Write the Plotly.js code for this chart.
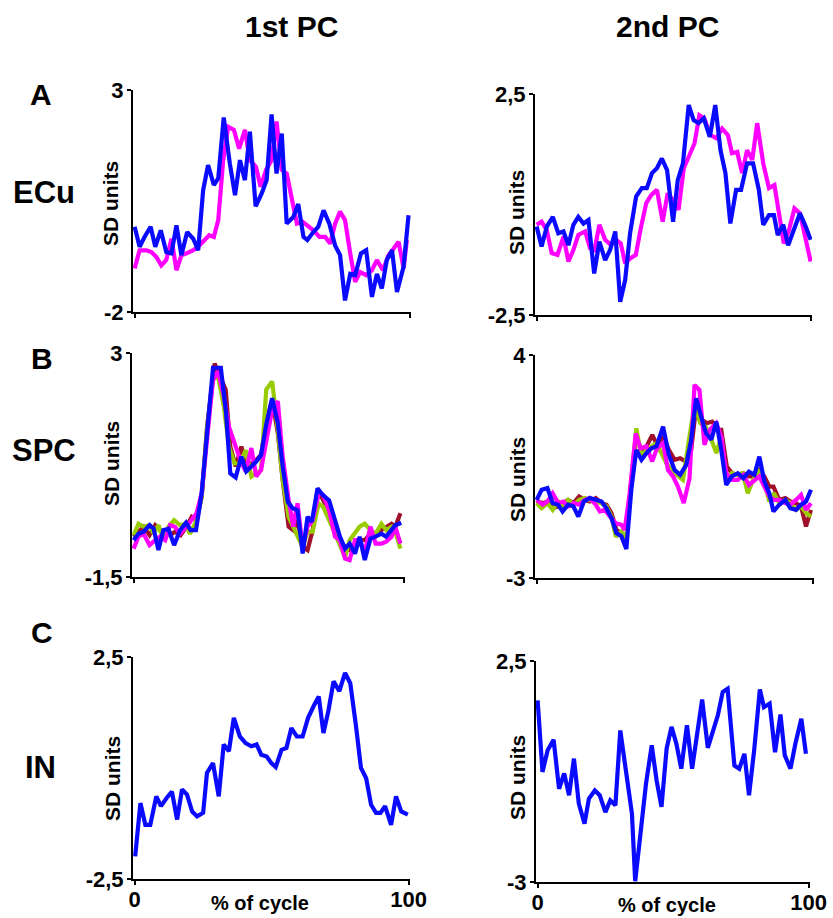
<!DOCTYPE html>
<html>
<head>
<meta charset="utf-8">
<script src="https://cdn.plot.ly/plotly-3.0.1.min.js"></script>
<style>html,body{margin:0;padding:0;background:#fff;}#chart{width:833px;height:918px;}</style>
</head>
<body>
<div id="chart"></div>
<script>
// ---------- DATA ----------
const xTickLabels = ['0', '100'];
const colTitles = ['1st PC', '2nd PC'];
const rowLetters = ['A', 'B', 'C'];
const rowNames = ['ECu', 'SPC', 'IN'];
const yLabelA1 = ['-2', '3'];     const yRangeA1 = [-2, 3];
const yLabelA2 = ['-2,5', '2,5']; const yRangeA2 = [-2.5, 2.5];
const yLabelB1 = ['-1,5', '3'];   const yRangeB1 = [-1.5, 3];
const yLabelB2 = ['-3', '4'];     const yRangeB2 = [-3, 4];
const yLabelC1 = ['-2,5', '2,5']; const yRangeC1 = [-2.5, 2.5];
const yLabelC2 = ['-3', '2,5'];   const yRangeC2 = [-3, 2.5];

// A, 1st PC
const a1BlueX = [0,1.8,3.6,5.8,7.5,9.5,11.5,13.4,15.2,17.0,19.1,21.3,23.1,24.9,26.7,28.8,30.4,32.4,34.6,36.5,38.3,40.1,41.9,44.0,46.2,48.0,49.8,51.6,53.5,55.3,57.7,59.5,61.4,62.8,65.0,66.8,68.7,70.8,72.9,74.7,76.5,78.4,80.2,82.3,84.2,86.3,88.1,89.9,91.7,93.6,95.4,97.8,99.6];
const a1BlueY = [-0.08,-0.53,-0.31,-0.08,-0.53,-0.16,-0.65,-0.68,-0.05,-0.72,-0.20,-0.35,-0.61,0.74,1.31,0.86,1.01,2.38,1.35,0.63,1.42,0.97,2.06,0.38,0.67,0.97,2.45,1.12,2.02,-0.01,0.14,0.43,-0.31,-0.38,-0.20,-0.08,0.29,-0.01,-0.50,-0.72,-1.74,-1.14,-1.17,-0.68,-0.61,-1.66,-1.14,-1.47,-0.83,-0.61,-1.55,-0.98,0.18];
const a1MagX = [0,1.8,4.3,6.1,7.9,9.7,11.5,13.4,15.2,17.0,19.1,21.3,23.1,24.9,27.1,28.8,30.4,32.2,34.0,36.1,38.0,40.1,41.9,44.1,45.8,47.8,49.8,51.6,53.5,55.3,57.1,59.0,61.1,63.2,65.0,67.2,69.3,71.1,72.9,74.7,76.5,78.4,80.2,82.0,84.2,86.3,88.1,90.3,92.3,94.2,96.0,97.8,99.0];
const a1MagY = [-1.02,-0.61,-0.61,-0.65,-0.76,-0.95,-0.83,-0.35,-1.06,-0.72,-0.67,-0.61,-0.53,-0.42,-0.27,-0.31,0.07,1.42,2.17,2.10,1.68,2.10,1.42,1.27,0.82,1.20,1.42,2.29,1.20,1.12,0.52,-0.01,0.03,-0.08,-0.16,-0.31,-0.31,-0.46,-0.01,0.26,0.07,-0.68,-1.32,-1.10,-1.17,-1.06,-0.83,-1.06,-0.72,-0.57,-0.42,-1.02,-0.38];

// A, 2nd PC
const a2BlueX = [0,1.8,3.7,5.9,7.9,9.8,11.6,13.4,15.2,17.1,18.9,21.0,22.9,25.0,26.8,28.7,30.5,32.3,34.1,36.3,38.4,40.2,42.1,43.9,45.7,47.6,49.8,51.5,53.4,55.5,57.3,59.1,61.0,63.2,65.2,67.1,68.9,70.7,72.8,74.6,76.8,79.0,81.1,82.7,84.8,86.6,88.0,90.0,91.8,93.9,96.1,98.2,100];
const a2BlueY = [-0.50,-0.95,-0.50,-0.28,-0.65,-0.61,-0.92,-0.46,-0.28,-0.43,-0.35,-1.56,-0.84,-1.26,-1.03,-0.61,-2.20,-1.71,-0.65,0.18,0.37,0.37,0.71,0.82,1.04,0.78,-0.39,0.55,0.93,2.25,1.91,1.84,1.95,1.53,2.25,1.23,0.71,-0.43,0.33,0.33,0.93,0.93,0.33,-0.46,-0.24,-0.24,-0.69,-0.46,-0.92,-0.58,-0.20,-0.50,-0.80];
const a2MagX = [0,1.8,3.7,5.5,7.6,9.8,11.6,13.4,15.2,17.7,19.5,21.1,22.9,25.0,27.1,29.0,30.7,32.3,34.1,36.2,38.0,40.0,41.8,43.9,46.0,47.8,49.8,51.8,53.7,55.5,57.6,59.4,61.2,63.4,65.6,67.7,69.8,71.3,73.2,75.0,76.8,78.7,80.5,82.7,84.8,86.8,88.5,90.2,92.1,94.1,96.1,98.2,100];
const a2MagY = [-0.46,-0.39,-0.58,-1.10,-1.14,-0.73,-1.29,-1.03,-0.69,-0.61,-0.99,-1.03,-0.46,-0.80,-0.92,-0.80,-0.88,-1.33,-1.22,-1.14,-0.54,0.03,0.21,0.33,-0.39,0.25,0.10,-0.12,0.82,1.08,1.38,2.02,1.95,1.57,1.50,1.72,1.57,1.16,1.19,0.71,1.23,1.01,1.84,0.93,0.37,0.44,-0.20,-0.88,-0.58,-0.09,-0.20,-0.80,-1.29];

// B, 1st PC
const b1BlueX = [0,1.8,3.7,5.9,7.4,9.2,11.0,12.9,15.0,17.2,19.4,21.1,23.1,25.2,27.2,29.4,32.3,34.2,35.8,37.8,39.9,41.7,43.6,45.4,47.2,49.1,51.3,53.4,55.2,57.1,58.9,60.7,62.6,64.4,66.0,68.1,70.0,72.4,74.6,76.4,78.3,80.0,82.0,83.7,85.6,87.7,89.6,91.8,93.5,95.5,96.9,99.1];
const b1BlueY = [-0.76,-0.63,-0.59,-0.46,-0.53,-0.96,-0.56,-0.53,-0.86,-0.56,-0.41,-0.56,-0.56,0.18,1.39,2.70,2.70,1.82,0.58,0.50,0.92,0.62,0.72,0.82,0.95,1.56,2.09,1.59,0.72,0.01,-0.12,-0.16,-1.03,-0.29,-0.39,0.28,0.15,0.04,-0.36,-0.69,-0.93,-0.83,-1.03,-0.69,-1.16,-0.73,-0.69,-0.63,-0.69,-0.56,-0.46,-0.41];
const b1MagX = [0,1.8,3.7,5.9,8.0,9.8,11.7,13.5,15.3,17.2,19.6,21.5,23.3,25.2,27.2,29.4,31.3,33.4,35.3,37.4,39.5,41.5,43.6,45.4,47.2,49.1,51.3,53.4,55.2,57.4,59.1,60.7,62.6,64.4,66.3,68.5,70.2,72.4,74.6,76.4,78.3,80.0,82.0,83.7,85.6,87.7,89.6,91.8,93.5,95.5,96.9,98.8];
const b1MagY = [-0.93,-0.69,-0.63,-0.86,-0.76,-0.69,-0.76,-0.46,-0.49,-0.63,-0.49,-0.36,-0.22,0.18,1.32,2.46,2.63,2.13,1.52,1.19,0.85,0.62,1.09,0.52,0.65,1.22,1.86,2.03,0.92,0.05,-0.49,-0.02,-0.90,-0.49,-0.36,0.18,0.15,-0.16,-0.69,-0.76,-1.13,-1.16,-0.76,-0.76,-1.00,-0.49,-0.83,-0.83,-0.79,-0.69,-0.49,-0.83];
const b1GreenX = [0,1.8,3.7,5.9,7.4,9.2,11.0,12.9,15.0,17.2,19.0,20.9,23.1,25.2,27.2,29.4,31.3,33.4,35.3,37.4,39.5,41.5,43.6,45.4,47.2,49.1,51.3,53.4,55.2,57.4,59.1,60.7,62.6,64.4,66.3,68.5,70.2,72.4,74.6,76.4,78.3,80.0,82.0,83.7,85.6,87.7,89.6,91.8,93.5,95.5,96.9,98.8];
const b1GreenY = [-0.66,-0.43,-0.49,-0.46,-0.63,-0.46,-0.76,-0.49,-0.36,-0.46,-0.43,-0.63,-0.39,0.11,1.46,2.46,2.53,1.93,1.12,0.78,0.78,1.05,0.52,0.58,0.65,2.26,2.43,1.46,0.45,-0.29,-0.49,-0.63,-0.90,-0.59,-0.59,-0.02,-0.09,-0.36,-0.63,-0.86,-1.10,-0.76,-0.63,-0.49,-0.43,-0.56,-0.63,-0.43,-0.56,-0.49,-0.59,-0.93];
const b1RedX = [0,1.8,3.7,5.9,8.0,9.8,11.7,13.5,15.3,17.4,19.6,21.5,23.3,25.2,27.2,30.0,31.9,34.1,35.8,37.8,39.9,41.7,43.6,45.4,47.2,49.1,51.3,53.4,55.2,57.4,59.1,60.7,62.6,64.4,66.3,68.5,70.2,72.4,74.6,76.4,78.3,80.0,82.0,83.7,85.6,87.7,89.6,91.8,93.7,95.5,96.9,98.8];
const b1RedY = [-0.69,-0.59,-0.49,-0.66,-0.46,-0.56,-0.59,-0.66,-0.59,-0.66,-0.49,-0.29,-0.36,0.11,1.52,2.79,2.53,2.26,1.12,0.72,1.12,0.78,0.78,0.85,0.95,1.59,2.06,1.39,0.45,-0.49,-0.56,-0.36,-0.90,-0.96,-0.56,0.25,0.04,-0.16,-0.49,-0.76,-0.90,-0.96,-0.96,-0.76,-0.76,-0.63,-0.63,-0.56,-0.49,-0.43,-0.49,-0.22];

// B, 2nd PC
const b2BlueX = [0,1.8,3.9,5.8,7.8,9.4,11.4,13.3,15.1,17.1,19.3,21.4,23.5,25.3,27.1,28.9,30.7,32.5,34.3,36.1,38.0,39.8,41.6,43.4,45.8,47.9,50.0,52.0,54.2,56.0,57.8,59.6,61.4,63.3,65.1,66.9,68.7,70.7,72.9,74.9,76.9,78.9,80.7,82.5,84.3,85.8,87.9,90.1,91.9,94.0,95.8,97.6,99.4];
const b2BlueY = [-0.55,-0.23,-0.18,-0.65,-0.70,-0.91,-0.70,-0.75,-1.07,-0.60,-0.49,-0.55,-0.60,-0.81,-1.12,-1.59,-1.69,-2.09,-0.23,1.02,0.71,0.92,1.07,1.13,1.75,0.87,0.39,0.24,0.55,1.34,2.64,2.07,1.54,1.34,1.91,1.02,-0.08,0.19,0.29,0.13,0.34,0.24,0.81,0.03,-0.34,-0.91,-0.70,-0.55,-0.81,-0.86,-0.70,-0.60,-0.23];
const b2MagX = [0,2.2,3.9,5.8,7.8,9.6,11.4,13.5,15.4,17.5,19.3,21.4,22.9,24.7,26.5,28.7,30.7,31.9,33.7,35.9,37.6,39.8,41.9,43.6,45.8,47.6,49.4,51.2,53.3,55.4,57.2,59.0,60.8,62.7,65.1,66.9,68.7,70.8,72.9,74.9,76.9,78.9,80.7,82.5,84.3,86.0,87.9,90.1,91.9,94.0,95.8,97.6,99.4];
const b2MagY = [-0.55,-0.70,-0.60,-0.34,-0.65,-0.60,-0.75,-0.65,-0.70,-0.55,-0.49,-0.70,-0.91,-0.86,-1.07,-1.28,-1.33,-1.49,-0.34,1.54,1.07,1.13,0.66,1.07,1.23,0.39,0.19,-0.13,-0.65,0.13,3.06,2.90,1.18,1.65,1.86,1.44,0.29,0.08,0.08,0.24,-0.08,0.08,0.19,-0.13,-0.44,-0.55,-0.55,-0.65,-0.70,-0.55,-0.39,-0.86,-0.65];
const b2GreenX = [0,1.8,3.9,5.8,7.8,9.6,11.4,13.5,15.4,17.5,19.3,21.4,23.5,25.3,27.1,28.7,30.7,32.5,34.3,36.1,38.0,39.8,41.6,43.4,45.2,47.0,49.2,51.2,53.0,55.2,57.2,59.3,61.2,63.3,65.1,66.9,68.7,70.7,72.9,74.7,76.5,78.4,80.5,82.5,84.3,86.0,87.9,90.1,91.9,94.0,95.8,97.6,99.4];
const b2GreenY = [-0.65,-0.81,-0.65,-0.86,-0.60,-0.75,-0.55,-0.70,-0.55,-0.49,-0.55,-0.60,-0.65,-0.75,-1.07,-1.70,-1.54,-1.80,-0.02,1.70,0.81,1.02,1.13,1.23,0.92,0.60,0.34,0.19,0.08,1.34,2.43,1.86,1.75,1.34,0.92,1.44,-0.02,0.29,0.24,0.29,-0.34,0.08,0.34,0.03,-0.60,-0.34,-0.65,-0.55,-0.65,-0.86,-0.75,-0.96,-1.07];
const b2RedX = [0,2.2,3.9,5.8,7.8,9.6,11.4,13.3,15.4,17.5,19.3,21.4,23.5,25.3,27.1,28.9,30.7,32.5,34.3,36.1,38.0,39.8,41.9,43.6,45.8,47.9,50.0,52.0,53.9,56.0,57.8,60.0,61.7,63.6,65.7,66.9,68.9,70.8,72.9,74.9,76.9,78.9,80.7,82.5,84.3,85.8,87.9,90.1,91.9,94.0,95.8,97.6,99.4];
const b2RedY = [-0.60,-0.65,-0.60,-0.81,-0.75,-0.65,-0.55,-0.65,-0.44,-0.55,-0.60,-0.49,-0.65,-0.70,-0.96,-1.49,-1.59,-1.75,0.08,1.44,1.02,1.13,1.49,1.18,1.44,1.02,0.71,0.76,0.66,1.02,2.38,1.96,1.86,1.91,1.65,1.65,0.50,0.29,0.24,0.29,0.19,0.19,0.39,0.19,-0.13,-0.13,-0.55,-0.49,-0.60,-0.65,-0.75,-1.38,-0.86];

// C, 1st PC
const c1BlueX = [0.2,2.1,3.9,5.7,7.9,9.6,11.6,13.6,15.5,17.3,19.1,21.0,22.8,25.0,26.4,28.6,30.7,32.5,34.4,36.2,38.4,40.5,42.6,44.5,46.2,48.2,49.9,51.5,53.6,55.4,57.2,59.2,61.3,63.3,65.3,67.2,68.9,70.7,72.6,74.7,76.8,78.7,80.8,82.6,84.5,86.3,88.1,89.7,91.4,93.6,95.4,97.3,99.7];
const c1BlueY = [-1.99,-0.79,-1.28,-1.28,-0.64,-0.86,-0.68,-0.53,-1.16,-0.48,-0.60,-0.98,-1.09,-1.01,-0.11,0.11,-0.64,0.53,0.38,1.13,0.71,0.56,0.49,0.53,0.30,0.26,0.11,0.02,0.41,0.45,0.90,0.71,0.71,1.13,1.39,1.61,0.79,1.28,1.95,1.73,2.14,1.91,0.94,0.00,-0.23,-0.83,-1.01,-1.01,-0.86,-1.28,-0.64,-0.98,-1.05];

// C, 2nd PC
const c2BlueX = [0,1.8,3.7,5.9,7.9,9.8,11.6,13.4,15.2,17.3,18.9,21.1,22.9,25.0,26.8,28.7,30.5,32.7,34.8,36.0,37.8,40.0,42.1,43.9,45.7,47.6,49.4,51.2,53.0,55.1,57.0,58.8,60.7,62.8,64.6,66.5,68.3,70.1,72.6,74.4,76.3,78.0,79.9,82.0,83.5,85.6,87.6,89.6,91.2,93.3,95.1,97.3,99.0];
const c2BlueY = [1.52,-0.26,0.28,0.54,-0.68,-0.30,-0.84,0.07,-1.05,-1.55,-0.93,-0.72,-0.84,-1.26,-0.97,-1.09,0.77,-0.22,-1.30,-2.98,-1.88,-0.55,0.40,-0.47,-1.13,0.32,0.86,0.44,-0.18,0.90,-0.18,0.69,1.54,0.34,0.73,1.15,1.73,1.81,-0.10,-0.18,0.19,-0.84,0.28,1.79,1.35,1.44,0.23,1.17,0.15,-0.18,0.44,1.06,0.19];

// ---------- STYLE ----------
const FONT = 'Liberation Sans, Arial, Helvetica, sans-serif';
const BLUE = '#0a0aff', MAG = '#ff00ff', GREEN = '#99cc00', RED = '#a0102a';
const W = 833, H = 918;

function tr(x, y, color, ax) {
  return {x: x, y: y, type: 'scatter', mode: 'lines', xaxis: 'x' + ax, yaxis: 'y' + ax,
          line: {color: color, width: 4.2}, hoverinfo: 'skip'};
}
const data = [
  tr(a1MagX, a1MagY, MAG, ''), tr(a1BlueX, a1BlueY, BLUE, ''),
  tr(a2MagX, a2MagY, MAG, '2'), tr(a2BlueX, a2BlueY, BLUE, '2'),
  tr(b1RedX, b1RedY, RED, '3'), tr(b1GreenX, b1GreenY, GREEN, '3'), tr(b1MagX, b1MagY, MAG, '3'), tr(b1BlueX, b1BlueY, BLUE, '3'),
  tr(b2RedX, b2RedY, RED, '4'), tr(b2GreenX, b2GreenY, GREEN, '4'), tr(b2MagX, b2MagY, MAG, '4'), tr(b2BlueX, b2BlueY, BLUE, '4'),
  tr(c1BlueX, c1BlueY, BLUE, '5'),
  tr(c2BlueX, c2BlueY, BLUE, '6')
];

const bold = s => '<b>' + s + '</b>';
const tickFont = {family: FONT, size: 22, color: '#000'};
const xTickFont = {family: FONT, size: 22, color: '#000'};
function xa(px0, px1, anchor, labels) {
  return {domain: [px0 / W, px1 / W], anchor: anchor, range: [-0.6, 100.5],
    showgrid: false, zeroline: false, showline: true, linecolor: '#000', linewidth: 2,
    ticks: 'outside', ticklen: 4, tickwidth: 2, tickcolor: '#000',
    tickvals: [0, 100], ticktext: xTickLabels.map(bold), showticklabels: labels,
    tickfont: xTickFont, ticklabelstandoff: -4, fixedrange: true};
}
function ya(py0, py1, anchor, range, labels) {
  return {domain: [1 - py1 / H, 1 - py0 / H], anchor: anchor, range: range,
    showgrid: false, zeroline: false, showline: true, linecolor: '#000', linewidth: 2,
    ticks: 'outside', ticklen: 4, tickwidth: 2, tickcolor: '#000',
    tickvals: range, ticktext: labels.map(bold), tickfont: tickFont, ticklabelstandoff: -1, fixedrange: true};
}

function ann(text, px, py, size, angle) {
  return {text: bold(text), x: px / W, y: 1 - py / H, xref: 'paper', yref: 'paper',
    xanchor: 'center', yanchor: 'middle', showarrow: false, textangle: angle || 0,
    font: {family: FONT, size: size, color: '#000'}};
}

const annotations = [
  ann(colTitles[0], 291, 26, 30), ann(colTitles[1], 667, 26, 30),
  ann(rowLetters[0], 41, 94, 30), ann(rowNames[0], 44, 192, 31),
  ann(rowLetters[1], 42, 358, 30), ann(rowNames[1], 44, 450, 31),
  ann(rowLetters[2], 42, 632, 30), ann(rowNames[2], 40, 767, 31),
  ann('SD units', 110, 204, 21, -90), ann('SD units', 516, 213, 21, -90),
  ann('SD units', 111, 464, 21, -90), ann('SD units', 517, 480, 21, -90),
  ann('SD units', 112, 779, 21, -90), ann('SD units', 517, 778, 21, -90),
  ann('% of cycle', 260, 903, 20), ann('% of cycle', 667, 905, 20)
];

const layout = {
  width: W, height: H, margin: {l: 0, r: 0, t: 0, b: 0},
  paper_bgcolor: '#fff', plot_bgcolor: 'rgba(0,0,0,0)', showlegend: false,
  font: {family: FONT},
  xaxis:  xa(133, 411, 'y', false),  yaxis:  ya(90, 312, 'x', yRangeA1, yLabelA1),
  xaxis2: xa(535, 812, 'y2', false), yaxis2: ya(94, 315, 'x2', yRangeA2, yLabelA2),
  xaxis3: xa(132, 405, 'y3', false), yaxis3: ya(353, 577, 'x3', yRangeB1, yLabelB1),
  xaxis4: xa(535, 814, 'y4', false), yaxis4: ya(355, 578, 'x4', yRangeB2, yLabelB2),
  xaxis5: xa(133, 410, 'y5', true),  yaxis5: ya(657, 879, 'x5', yRangeC1, yLabelC1),
  xaxis6: xa(536, 810, 'y6', true),  yaxis6: ya(661, 882, 'x6', yRangeC2, yLabelC2),
  annotations: annotations
};

Plotly.newPlot('chart', data, layout, {staticPlot: true, displayModeBar: false});
</script>
</body>
</html>
